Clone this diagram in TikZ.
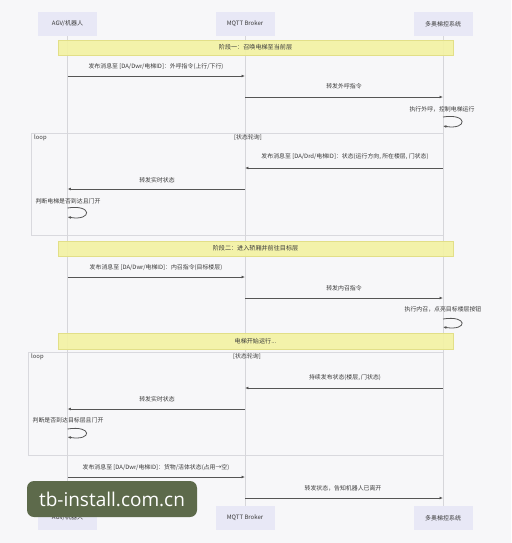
\documentclass[tikz,border=0pt]{standalone}
\usepackage{fontspec}
\setmainfont{Noto Sans CJK SC}
\newfontfamily\wmfont{Open Sans}
\usetikzlibrary{arrows.meta}
\definecolor{bgc}{HTML}{F7F7F9}
\definecolor{actorfill}{HTML}{E8E8F6}
\definecolor{textc}{HTML}{3A3A3A}
\definecolor{lifec}{HTML}{D6D6DA}
\definecolor{msgc}{HTML}{555555}
\definecolor{phasefill}{HTML}{F3F2A4}
\definecolor{phasedraw}{HTML}{E2DF88}
\definecolor{framec}{HTML}{D9D9DE}
\definecolor{wmfill}{HTML}{5D6A4B}
\begin{document}
\begin{tikzpicture}[x=1pt,y=-1pt,
  actor/.style={fill=actorfill, minimum width=59pt, minimum height=24pt, inner sep=0pt, font=\fontsize{6}{7}\selectfont, text=textc},
  life/.style={draw=lifec, line width=0.7pt},
  msg/.style={draw=msgc, line width=0.8pt, -{Latex[length=3.4pt,width=2.8pt]}},
  lbl/.style={font=\fontsize{5.9}{7}\selectfont, text=textc, inner sep=0pt},
  phase/.style={fill=phasefill, fill opacity=0.92, text opacity=1, draw=phasedraw, line width=0.4pt, minimum width=395pt, minimum height=15pt, inner sep=0pt, font=\fontsize{6.1}{7}\selectfont, text=textc},
  loopframe/.style={draw=framec, line width=0.6pt},
]
\useasboundingbox[fill=bgc] (0,0) rectangle (511,543);

% actors
\node[actor] (a1t) at (67.5,24) {AGV/机器人};
\node[actor] (a2t) at (245,24) {MQTT Broker};
\node[actor] (a3t) at (443,24) {多奥梯控系统};
\node[actor] (a1b) at (67.5,518) {AGV/机器人};
\node[actor] (a2b) at (245,518) {MQTT Broker};
\node[actor] (a3b) at (443,518) {多奥梯控系统};

% loop frames
\draw[loopframe] (31,133) rectangle (443,235);
\draw[loopframe] (28,352) rectangle (443,455);

% lifelines
\draw[life] (a1t.south) -- (a1b.north);
\draw[life] (a2t.south) -- (a2b.north);
\draw[life] (a3t.south) -- (a3b.north);

% phase bars
\node[phase] (p1) at (255.5,47.5) {阶段一：召唤电梯至当前层};
\node[phase] (p2) at (255.5,248.5) {阶段二：进入轿厢并前往目标层};
\node[phase, minimum height=16pt] (p3) at (255.5,341.5) {电梯开始运行...};

% phase 1
\node[lbl] (t1) at (156,67) {发布消息至 [DA/Dwr/电梯ID]：外呼指令(上行/下行)};
\draw[msg] (a1t.center |- 0,76) -- (a2t.center |- 0,76);
\node[lbl] (t2) at (344,86) {转发外呼指令};
\draw[msg] (a2t.center |- 0,97) -- (a3t.center |- 0,97);
\node[lbl] (t3) at (442,109) {执行外呼，控制电梯运行};
\draw[msg] (a3t.center |- 0,117) .. controls +(25,-4) and +(25,4) .. (a3t.center |- 0,126);

% loop 1
\node[lbl, anchor=west] (l1) at (34,138) {loop};
\node[lbl] (l1c) at (248,138) {[状态轮询]};
\node[lbl] (t4) at (345,157) {发布消息至 [DA/Drd/电梯ID]：状态(运行方向, 所在楼层, 门状态)};
\draw[msg] (a3t.center |- 0,168) -- (a2t.center |- 0,168);
\node[lbl] (t5) at (157,180) {转发实时状态};
\draw[msg] (a2t.center |- 0,189) -- (a1t.center |- 0,189);
\node[lbl] (t6) at (68,201) {判断电梯是否到达且门开};
\draw[msg] (a1t.center |- 0,208) .. controls +(25,-4) and +(25,4) .. (a1t.center |- 0,217);

% phase 2
\node[lbl] (t7) at (156,268) {发布消息至 [DA/Dwr/电梯ID]：内召指令(目标楼层)};
\draw[msg] (a1t.center |- 0,277) -- (a2t.center |- 0,277);
\node[lbl] (t8) at (344,288) {转发内召指令};
\draw[msg] (a2t.center |- 0,298) -- (a3t.center |- 0,298);
\node[lbl] (t9) at (443,309) {执行内召，点亮目标楼层按钮};
\draw[msg] (a3t.center |- 0,319) .. controls +(25,-4) and +(25,4) .. (a3t.center |- 0,327);

% loop 2
\node[lbl, anchor=west] (l2) at (31,357) {loop};
\node[lbl] (l2c) at (247,357) {[状态轮询]};
\node[lbl] (t10) at (345,378) {持续发布状态(楼层, 门状态)};
\draw[msg] (a3t.center |- 0,388) -- (a2t.center |- 0,388);
\node[lbl] (t11) at (157,399) {转发实时状态};
\draw[msg] (a2t.center |- 0,409) -- (a1t.center |- 0,409);
\node[lbl] (t12) at (68,420) {判断是否到达目标层且门开};
\draw[msg] (a1t.center |- 0,429) .. controls +(25,-4) and +(25,4) .. (a1t.center |- 0,437);

% final
\node[lbl] (t13) at (156,468) {发布消息至 [DA/Dwr/电梯ID]：货物/活体状态(占用→空)};
\draw[msg] (a1t.center |- 0,477) -- (a2t.center |- 0,477);
\node[lbl] (t14) at (343,488) {转发状态，告知机器人已离开};
\draw[msg] (a2t.center |- 0,498) -- (a3t.center |- 0,498);

% watermark
\node[fill=wmfill, rounded corners=7pt, minimum width=170pt, minimum height=36pt, inner sep=0pt, text=white, font=\wmfont\fontsize{19}{20}\selectfont] (wm) at (112,499) {tb-install.com.cn};
\end{tikzpicture}
\end{document}
